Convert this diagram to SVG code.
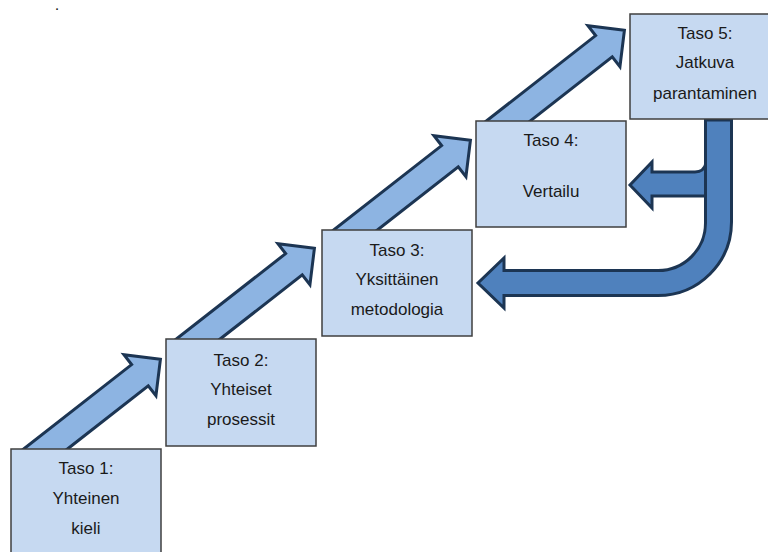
<svg xmlns="http://www.w3.org/2000/svg" width="768" height="552" viewBox="0 0 768 552">
  <defs>
    <path id="uparrow" d="M-2,0 L-28,-26 L-28,-13.5 L-170,-13.5 L-170,13.5 L-28,13.5 L-28,26 Z"/>
  </defs>
  <style>
    .box { fill: #C6D9F1; stroke: #3F3F3F; stroke-width: 1.5; }
    .up { fill: #8DB4E2; stroke: #1C3553; stroke-width: 3; }
    .back { fill: #4F81BD; stroke: #1C3553; stroke-width: 3; }
    text { font-family: "Liberation Sans", Arial, sans-serif; font-size: 17px; fill: #1A1A1A; text-anchor: middle; }
  </style>
  <rect width="768" height="552" fill="#FFFFFF"/>
  <text x="57" y="10" style="font-size:11px;font-weight:bold">.</text>

  <g id="connectors">
    <use href="#uparrow" class="up" transform="translate(162,358) rotate(-38)"/>
    <use href="#uparrow" class="up" transform="translate(316,247) rotate(-38)"/>
    <use href="#uparrow" class="up" transform="translate(472,139) rotate(-38)"/>
    <use href="#uparrow" class="up" transform="translate(626,29) rotate(-38)"/>
    <path class="back" d="M706,163 Q704,172 695,172 L652,172 L652,162 L630,185 L652,208 L652,196 L706,196"/>
    <path class="back" d="M705.5,120 L731.5,120 L731.5,222 A73.5,73.5 0 0 1 658,295.5 L504,295.5 L504,308 L478,283 L504,258 L504,270.5 L658,270.5 A47.5,47.5 0 0 0 705.5,223 Z"/>
  </g>

  <g id="taso1">
    <rect class="box" x="11" y="449" width="150" height="110"/>
    <text x="86" y="474">Taso 1:</text>
    <text x="86" y="504">Yhteinen</text>
    <text x="86" y="534">kieli</text>
  </g>
  <g id="taso2">
    <rect class="box" x="166" y="339" width="150" height="107"/>
    <text x="241" y="366">Taso 2:</text>
    <text x="241" y="395">Yhteiset</text>
    <text x="241" y="425">prosessit</text>
  </g>
  <g id="taso3">
    <rect class="box" x="322" y="230" width="150" height="106"/>
    <text x="397" y="256">Taso 3:</text>
    <text x="397" y="285">Yksittäinen</text>
    <text x="397" y="315">metodologia</text>
  </g>
  <g id="taso4">
    <rect class="box" x="476" y="121" width="150" height="106"/>
    <text x="551" y="146">Taso 4:</text>
    <text x="551" y="197">Vertailu</text>
  </g>
  <g id="taso5">
    <rect class="box" x="630" y="14" width="150" height="105"/>
    <text x="705" y="39">Taso 5:</text>
    <text x="705" y="68">Jatkuva</text>
    <text x="705" y="99">parantaminen</text>
  </g>
</svg>
